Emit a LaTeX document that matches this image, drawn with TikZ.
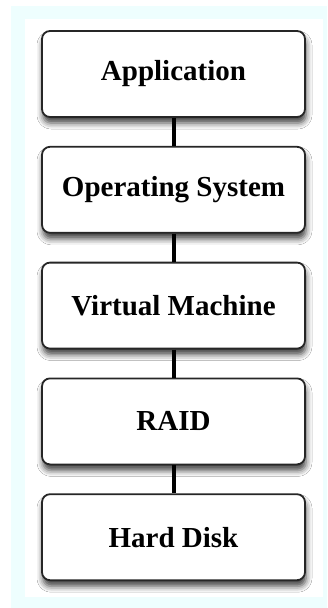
\documentclass[tikz,border=0pt]{standalone}
\usepackage{fontspec}
\setmainfont{Liberation Serif}
\usepackage{tikz}
\usetikzlibrary{positioning, shadows.blur}

\definecolor{bgcyan}{RGB}{238,254,254}

\begin{document}
\begin{tikzpicture}[
  x=1pt, y=1pt,
  node distance=28pt,
  every node/.style={font=\fontsize{29}{34}\selectfont\bfseries},
  layer/.style={rectangle, draw=black!85, line width=1.8pt, rounded corners=8pt,
    fill=white, minimum width=263pt, minimum height=86pt,
    blur shadow={shadow xshift=1pt, shadow yshift=-6pt, shadow blur radius=6pt, shadow opacity=75}},
  link/.style={line width=4pt, black}
]

% Background panels
\useasboundingbox (0,0) rectangle (327,-608);
\fill[bgcyan] (11,-6) rectangle (327,-608);
\fill[white] (25,-19) rectangle (323,-597);

% Layers
\node[layer] (app) at (173.5,-74) {Application};
\node[layer, below=of app] (os) {Operating System};
\node[layer, below=of os] (vm) {Virtual Machine};
\node[layer, below=of vm] (raid) {RAID};
\node[layer, below=of raid] (disk) {Hard Disk};

% Links
\draw[link] (app) -- (os);
\draw[link] (os) -- (vm);
\draw[link] (vm) -- (raid);
\draw[link] (raid) -- (disk);

\end{tikzpicture}
\end{document}
